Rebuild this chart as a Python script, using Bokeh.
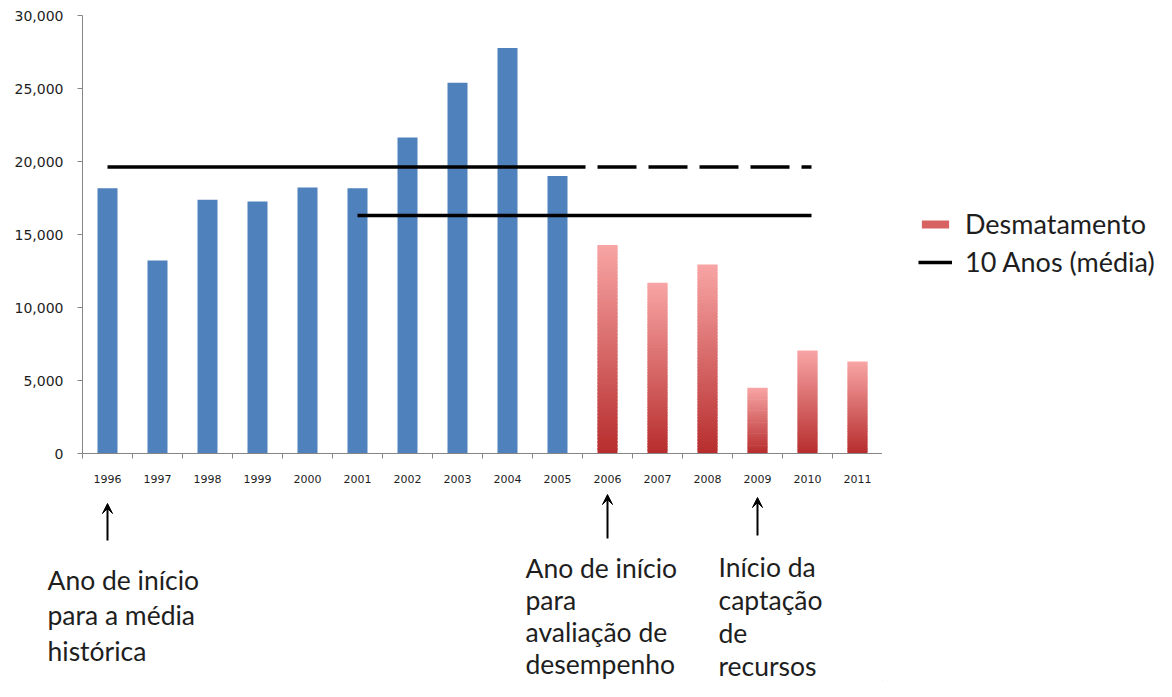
import numpy as np
from bokeh.plotting import figure
from bokeh.layouts import column, row
from bokeh.models import (Range1d, FixedTicker, ColumnDataSource, Label, Arrow,
                          VeeHead, Legend, LegendItem, NumeralTickFormatter)
from bokeh.embed import file_html
from bokeh.resources import INLINE

# ---------------- data ----------------
years = ["1996", "1997", "1998", "1999", "2000", "2001", "2002", "2003",
         "2004", "2005", "2006", "2007", "2008", "2009", "2010", "2011"]
desmatamento = [18161, 13227, 17383, 17259, 18226, 18165, 21651, 25396,
                27772, 19014, 14286, 11700, 12950, 4500, 7050, 6300]
split_year = "2006"            # first year of the red (evaluation) period

hist_avg = 19625               # 10-year average 1996-2005
hist_start, hist_solid_end, hist_dash_end = "1996", "2006", "2010"
recent_avg = 16300             # 10-year average 2001-2010
recent_start, recent_end = "2001", "2010"

y_ticks = [0, 5000, 10000, 15000, 20000, 25000, 30000]

legend_labels = ["Desmatamento", "10 Anos (média)"]
annot_texts = ["Ano de início\npara a média\nhistórica",
               "Ano de início\npara\navaliação de\ndesempenho",
               "Início da\ncaptação\nde\nrecursos"]
arrow_years = ["1996", "2006", "2009"]

# ---------------- layout constants ----------------
W, H = 1156, 681
LEFT, TOP, FRAME_W, FRAME_H = 82, 15, 800, 438
W1 = LEFT + FRAME_W            # chart width (left part)
W3 = W - W1                    # legend column width
H1 = 488                       # height of the chart part
H2 = H - H1                    # height of the annotation strip
n = len(years)
CAT_PX = FRAME_W / n

def center(y):
    return years.index(y) + 0.5

def boundary(y):
    return float(years.index(y))

split_i = years.index(split_year)
BLUE = "#4F81BD"
RED_BOTTOM = np.array([184, 46, 46])
RED_TOP = np.array([248, 164, 164])
RED_MID = "#d86262"
TXT = "#1e1e1e"
AX = "#868686"
FONT = "Lato"

p = figure(width=W1, height=H1, x_range=Range1d(0, n), y_range=Range1d(0, 30000),
           output_backend="svg", toolbar_location=None,
           min_border_left=LEFT, min_border_right=0,
           min_border_top=TOP, min_border_bottom=H1 - TOP - FRAME_H)
p.xgrid.visible = False
p.ygrid.visible = False
p.outline_line_color = None

# blue bars
blue_src = ColumnDataSource(dict(x=[i + 0.5 for i in range(split_i)],
                                 top=desmatamento[:split_i]))
p.vbar(x="x", top="top", bottom=0, width=0.4, source=blue_src,
       fill_color=BLUE, line_color=None)

# red gradient bars (stacked thin slices, each slightly overlapping the next)
N = 60
xs, bots, tops, cols = [], [], [], []
for i in range(split_i, n):
    v = desmatamento[i]
    for j in range(N):
        t = j / (N - 1)
        c = (RED_BOTTOM + (RED_TOP - RED_BOTTOM) * t).astype(int)
        xs.append(i + 0.5)
        bots.append(v * j / N)
        tops.append(v * (j + 1) / N if j == N - 1 else v * (j + 1.6) / N)
        cols.append("#%02x%02x%02x" % tuple(c))
red_src = ColumnDataSource(dict(x=xs, bottom=bots, top=tops, color=cols))
p.vbar(x="x", top="top", bottom="bottom", width=0.4, source=red_src,
       fill_color="color", line_color=None)

# average lines
p.line([center(hist_start), boundary(hist_solid_end) + 0.06], [hist_avg, hist_avg],
       line_color="black", line_width=3.5)
p.line([boundary(hist_solid_end) + 0.06, center(hist_dash_end) + 0.08], [hist_avg, hist_avg],
       line_color="black", line_width=3.5, line_dash="39 12", line_dash_offset=39)
p.line([center(recent_start), center(recent_end) + 0.08], [recent_avg, recent_avg],
       line_color="black", line_width=3.5)

# axes
p.yaxis.ticker = FixedTicker(ticks=y_ticks)
p.yaxis.formatter = NumeralTickFormatter(format="0,0")
p.yaxis.axis_line_color = AX
p.yaxis.major_tick_line_color = AX
p.yaxis.major_tick_out = 5
p.yaxis.major_tick_in = 0
p.yaxis.minor_tick_line_color = None
p.yaxis.major_label_text_font = "DejaVu Sans"
p.yaxis.major_label_text_font_size = "14px"
p.yaxis.major_label_text_color = TXT
p.yaxis.major_label_standoff = 14

p.xaxis.ticker = FixedTicker(ticks=[i + 0.5 for i in range(n)],
                             minor_ticks=list(range(n + 1)))
p.xaxis.major_label_overrides = {i + 0.5: years[i] for i in range(n)}
p.xaxis.axis_line_color = AX
p.xaxis.major_tick_line_color = None
p.xaxis.major_tick_out = 0
p.xaxis.major_tick_in = 0
p.xaxis.minor_tick_line_color = AX
p.xaxis.minor_tick_out = 5
p.xaxis.minor_tick_in = 0
p.xaxis.major_label_text_font = "DejaVu Sans"
p.xaxis.major_label_text_font_size = "11px"
p.xaxis.major_label_text_color = TXT
p.xaxis.major_label_standoff = 16

# ---------------- annotation strip ----------------
p2 = figure(width=W1, height=H2, y_range=Range1d(0, H2), output_backend="svg",
            toolbar_location=None, x_axis_location=None, y_axis_location=None,
            min_border=0)
p3 = figure(width=W3, height=H, x_range=Range1d(0, W3), y_range=Range1d(0, H),
            output_backend="svg", toolbar_location=None,
            x_axis_location=None, y_axis_location=None, min_border=0)
try:
    for fig in (p, p2, p3):
        fig.frame_align = False
    aligned = False
except AttributeError:
    aligned = True

if aligned:
    p2.x_range = Range1d(0, n)
else:
    p2.x_range = Range1d(-LEFT / CAT_PX, (W1 - LEFT) / CAT_PX)

for fig in (p2, p3):
    fig.xgrid.visible = False
    fig.ygrid.visible = False
    fig.outline_line_color = None

def ypix(py):      # picture row -> strip data y
    return H - py

annot_pos = [(-0.7, ypix(563), 1.11), (8.86, ypix(551), 1.0), (12.72, ypix(550), 1.04)]
for txt, (x, y, lh) in zip(annot_texts, annot_pos):
    p2.add_layout(Label(x=x, y=y, text=txt, text_font=FONT, text_font_size="26.5px",
                        text_color=TXT, text_baseline="top", text_line_height=lh))

arrow_tops = [503, 494, 497]
arrow_bots = [540, 538, 535]
for yr, yt, yb in zip(arrow_years, arrow_tops, arrow_bots):
    p2.add_layout(Arrow(x_start=center(yr), y_start=ypix(yb), x_end=center(yr), y_end=ypix(yt),
                        line_color="black", line_width=2,
                        end=VeeHead(size=10, line_color="black", fill_color="black",
                                    line_width=1)))

# ---------------- legend column ----------------
# key proxies placed outside the visible range of this strip
key_bar = p3.vbar(x=[-100], top=[1], width=1, fill_color=RED_MID, line_color=None)
key_line = p3.line(x=[-100, -90], y=[1, 1], line_color="black", line_width=3.5)
legend = Legend(items=[LegendItem(label=legend_labels[0], renderers=[key_bar]),
                       LegendItem(label=legend_labels[1], renderers=[key_line])],
                location=(36, H - 278), border_line_color=None, background_fill_alpha=0,
                padding=0, margin=0, spacing=5, glyph_width=34, glyph_height=10,
                label_height=26, label_standoff=13, label_text_font=FONT,
                label_text_font_size="27px", label_text_color=TXT)
p3.add_layout(legend)

layout = row(column(p, p2, spacing=0), p3, spacing=0)
open("out.html", "w").write(file_html(layout, INLINE))
